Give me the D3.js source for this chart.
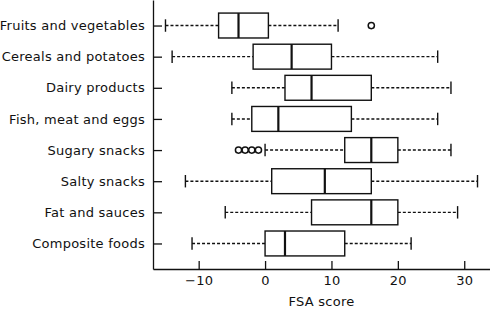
<!DOCTYPE html>
<html>
<head>
<meta charset="utf-8">
<script src="https://cdn.jsdelivr.net/npm/d3@7"></script>
<style>
    body { margin: 0; background: #fff; }
    text { font-family: "DejaVu Sans", sans-serif; fill: #111; letter-spacing: 0.25px; }
</style>
</head>
<body>
<svg id="chart" width="490" height="310"></svg>
<script>
// food groups, top to bottom
let categories = ["Fruits and vegetables", "Cereals and potatoes", "Dairy products",
    "Fish, meat and eggs", "Sugary snacks", "Salty snacks", "Fat and sauces", "Composite foods"];

// five-number summaries
let whiskerLow = [-15, -14, -5, -5, 0, -12, -6, -11];
let boxLow = [-7, -1.8, 3, -2, 12, 1, 7, 0];
let medians = [-4, 4, 7, 2, 16, 9, 16, 3];
let boxHigh = [0.5, 10, 16, 13, 20, 16, 20, 12];
let whiskerHigh = [11, 26, 28, 26, 28, 32, 29, 22];

// outliers: [category index, value]
let outliers = [[0, 16], [4, -4], [4, -3], [4, -2], [4, -1]];

let xTicks = [-10, 0, 10, 20, 30];

let svg = d3.select("#chart"),
    plotLeft = 153,
    plotRight = 490,
    plotTop = 0,
    plotBottom = 269,
    fontSize = "13px";

let data = categories.map(function (c, i) {
    return {
        name: c,
        pos: categories.length - i,
        lo: whiskerLow[i], q1: boxLow[i], med: medians[i], q3: boxHigh[i], hi: whiskerHigh[i]
    };
});

// R style 4% padding around the data range
let xScale = d3.scaleLinear().domain([-16.88, 33.88]).range([plotLeft, plotRight]);
let yScale = d3.scaleLinear().domain([0.18, 8.82]).range([plotBottom, plotTop]);

let boxH = yScale(0) - yScale(0.8);
let capH = boxH / 2;

let xAxis = d3.axisBottom(xScale)
    .tickValues(xTicks)
    .tickSizeInner(-8)
    .tickSizeOuter(0)
    .tickPadding(7);

let gx = svg.append("g")
    .attr("transform", "translate(0," + plotBottom + ")")
    .call(xAxis);
gx.selectAll("text").style("font-size", fontSize);

let yAxis = d3.axisLeft(yScale)
    .tickValues(data.map(function (d) { return d.pos; }))
    .tickFormat(function (p) { return categories[categories.length - p]; })
    .tickSizeInner(-9)
    .tickSizeOuter(0)
    .tickPadding(8);

let gy = svg.append("g")
    .attr("transform", "translate(" + plotLeft + ",0)")
    .call(yAxis);
gy.selectAll("text").style("font-size", fontSize);

svg.selectAll(".domain, .tick line").attr("stroke", "#111").attr("stroke-width", 1.3);

svg.append("text")
    .attr("x", (plotLeft + plotRight) / 2)
    .attr("y", 306)
    .attr("text-anchor", "middle")
    .style("font-size", fontSize)
    .text("FSA score");

let groups = svg.append("g").selectAll("g")
    .data(data)
    .enter()
    .append("g");

// dashed whiskers
groups.append("line")
    .attr("x1", function (d) { return xScale(d.lo); })
    .attr("x2", function (d) { return xScale(d.q1); })
    .attr("y1", function (d) { return yScale(d.pos); })
    .attr("y2", function (d) { return yScale(d.pos); });
groups.append("line")
    .attr("x1", function (d) { return xScale(d.q3); })
    .attr("x2", function (d) { return xScale(d.hi); })
    .attr("y1", function (d) { return yScale(d.pos); })
    .attr("y2", function (d) { return yScale(d.pos); });
groups.selectAll("line")
    .attr("stroke", "#111")
    .attr("stroke-width", 1.4)
    .attr("stroke-dasharray", "3,2");

// staples
["lo", "hi"].forEach(function (k) {
    groups.append("line")
        .attr("x1", function (d) { return xScale(d[k]); })
        .attr("x2", function (d) { return xScale(d[k]); })
        .attr("y1", function (d) { return yScale(d.pos) - capH / 2; })
        .attr("y2", function (d) { return yScale(d.pos) + capH / 2; })
        .attr("stroke", "#111")
        .attr("stroke-width", 1.4);
});

groups.append("rect")
    .attr("x", function (d) { return xScale(d.q1); })
    .attr("width", function (d) { return xScale(d.q3) - xScale(d.q1); })
    .attr("y", function (d) { return yScale(d.pos) - boxH / 2; })
    .attr("height", boxH)
    .attr("fill", "#fff")
    .attr("stroke", "#111")
    .attr("stroke-width", 1.4);

groups.append("line")
    .attr("x1", function (d) { return xScale(d.med); })
    .attr("x2", function (d) { return xScale(d.med); })
    .attr("y1", function (d) { return yScale(d.pos) - boxH / 2; })
    .attr("y2", function (d) { return yScale(d.pos) + boxH / 2; })
    .attr("stroke", "#111")
    .attr("stroke-width", 2.2);

svg.append("g").selectAll("circle")
    .data(outliers)
    .enter()
    .append("circle")
    .attr("cx", function (d) { return xScale(d[1]); })
    .attr("cy", function (d) { return yScale(data[d[0]].pos); })
    .attr("r", 3.1)
    .attr("fill", "none")
    .attr("stroke", "#111")
    .attr("stroke-width", 1.5);
</script>
</body>
</html>
